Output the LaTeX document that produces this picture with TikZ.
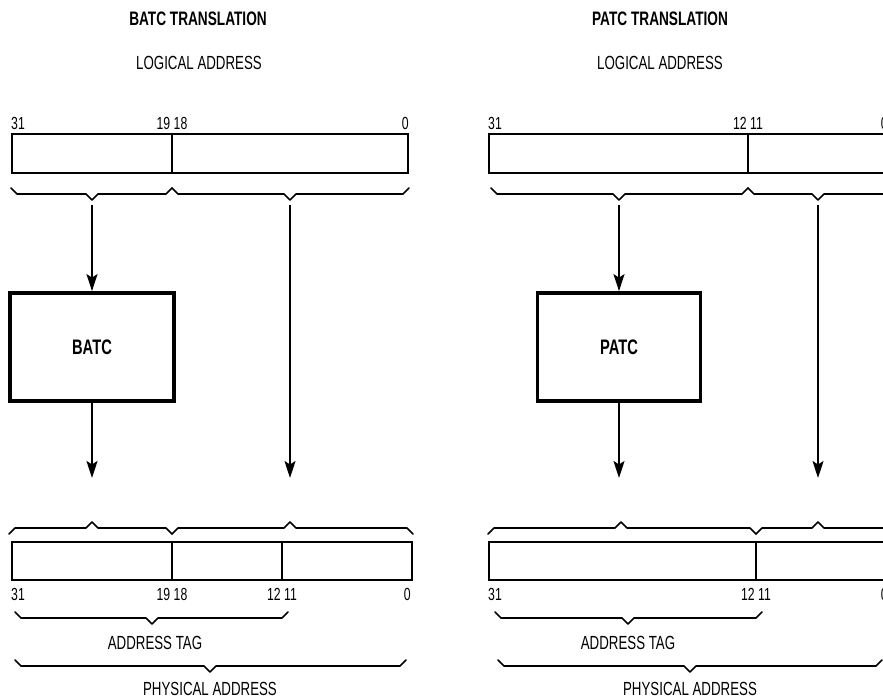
\documentclass[tikz,border=0pt]{standalone}
\usepackage{fontspec}
\setmainfont[FakeStretch=0.7]{Liberation Sans}
\usetikzlibrary{arrows.meta}
\newcommand\brdn[4]{\draw[brc] (#1,#3+6) -- (#1+6,#3) -- (#4-6,#3) -- (#4,#3-6) -- (#4+6,#3) -- (#2-6,#3) -- (#2,#3+6);}
\newcommand\brup[4]{\draw[brc] (#1,#3-6) -- (#1+6,#3) -- (#4-6,#3) -- (#4,#3+6) -- (#4+6,#3) -- (#2-6,#3) -- (#2,#3-6);}
\begin{document}
\begin{tikzpicture}[x=1pt,y=1pt,
  title/.style={font=\bfseries\fontsize{19.5}{22}\selectfont, inner sep=0pt},
  captext/.style={font=\fontsize{19}{21}\selectfont, inner sep=0pt},
  bit/.style={font=\fontsize{17.5}{19}\selectfont, inner sep=0pt},
  reg/.style={draw, line width=2.3pt},
  unit/.style={draw, line width=3.8pt, inner sep=0pt, font=\bfseries\fontsize{21}{23}\selectfont},
  brc/.style={draw, line width=1.6pt, line join=round, line cap=round},
  flow/.style={draw, line width=1.6pt, -{Stealth[length=17pt,width=11pt,inset=3.5pt]}}]
\useasboundingbox (0,0) rectangle (883,-700);
\clip (0,0) rectangle (883,-700);
\fill[white] (0,0) rectangle (883,-700);

% ---------------- BATC ----------------
\node[title] (t1) at (198,-19) {BATC TRANSLATION};
\node[captext] (la1) at (199,-63) {LOGICAL ADDRESS};
\node[bit, anchor=west] (b31a) at (11,-123) {31};
\node[bit] (b1918a) at (172,-123) {19 18};
\node[bit, anchor=east] (b0a) at (409,-123) {0};
\draw[reg] (12,-134) rectangle (408,-173);
\draw[reg] (172,-134) -- (172,-173);
\brdn{11}{172}{-194}{92}
\brdn{172}{409}{-194}{290}
\coordinate (s1a) at (92,-205);
\coordinate (s2a) at (290,-205);
\node[unit, minimum width=164pt, minimum height=108pt] (batc) at (92,-347) {BATC};
\coordinate (e1a) at (92,-478);
\coordinate (e2a) at (290,-478);
\draw[flow] (s1a) -- (batc.north);
\draw[flow] (batc.south) -- (e1a);
\draw[flow] (s2a) -- (e2a);
\brup{9}{172}{-528}{92}
\brup{172}{413}{-528}{290}
\draw[reg] (12,-542) rectangle (412,-580);
\draw[reg] (172,-542) -- (172,-580);
\draw[reg] (282,-542) -- (282,-580);
\node[bit, anchor=west] (c31a) at (11,-594) {31};
\node[bit] (c1918a) at (172,-594) {19 18};
\node[bit] (c1211a) at (282,-594) {12 11};
\node[bit, anchor=east] (c0a) at (411,-594) {0};
\brdn{15}{288}{-618}{152}
\node[captext] (ata) at (155,-643) {ADDRESS TAG};
\brdn{15}{406}{-666}{210}
\node[captext] (paa) at (210,-689) {PHYSICAL ADDRESS};

% ---------------- PATC ----------------
\node[title] (t2) at (660,-19) {PATC TRANSLATION};
\node[captext] (la2) at (660,-63) {LOGICAL ADDRESS};
\node[bit, anchor=west] (b31b) at (488,-123) {31};
\node[bit] (b1211b) at (748,-123) {12 11};
\node[bit, anchor=east] (b0b) at (888,-123) {0};
\draw[reg] (489,-134) rectangle (892,-173);
\draw[reg] (748,-134) -- (748,-173);
\brdn{491}{748}{-194}{619}
\brdn{748}{892}{-194}{818}
\coordinate (s1b) at (619,-205);
\coordinate (s2b) at (818,-205);
\node[unit, minimum width=163pt, minimum height=108pt] (patc) at (619,-347) {PATC};
\coordinate (e1b) at (619,-478);
\coordinate (e2b) at (818,-478);
\draw[flow] (s1b) -- (patc.north);
\draw[flow] (patc.south) -- (e1b);
\draw[flow] (s2b) -- (e2b);
\brup{488}{756}{-528}{621}
\brup{756}{892}{-528}{818}
\draw[reg] (489,-542) rectangle (892,-580);
\draw[reg] (756,-542) -- (756,-580);
\node[bit, anchor=west] (c31b) at (488,-594) {31};
\node[bit] (c1211b) at (756,-594) {12 11};
\node[bit, anchor=east] (c0b) at (888,-594) {0};
\brdn{495}{762}{-618}{628}
\node[captext] (atb) at (628,-643) {ADDRESS TAG};
\brdn{498}{882}{-666}{690}
\node[captext] (pab) at (690,-689) {PHYSICAL ADDRESS};
\end{tikzpicture}
\end{document}
